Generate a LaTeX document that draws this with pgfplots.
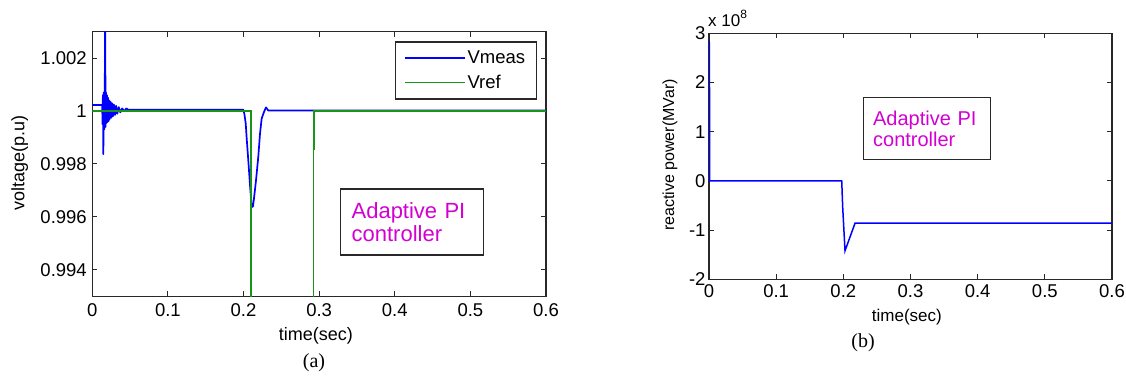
\documentclass[border=0pt]{standalone}
\usepackage{fontspec}
\setmainfont{Liberation Sans}
\newfontfamily\timesfont{Liberation Serif}
\usepackage{pgfplots}
\usepackage{pgfplotstable}
\pgfplotsset{compat=1.18}
\definecolor{mblue}{RGB}{0,0,255}
\definecolor{mgreen}{RGB}{25,150,25}
\definecolor{mmag}{RGB}{210,0,210}
\definecolor{axc}{RGB}{40,40,40}
\newcommand{\fs}[2]{\fontsize{#1}{#2}\selectfont}

\pgfplotstableread{
t v
0 1.00023
0.0132 1.00023
0.0134 0.9995
0.0140 1.0006
0.0146 0.99837
0.0152 1.0007
0.0158 0.9993
0.0164 1.0004
0.0170 1.0036
0.0176 0.9994
0.0182 1.0007
0.0188 0.99955
0.0194 1.0006
0.0200 0.99958
0.0208 1.0005
0.0216 0.99962
0.0224 1.0004
0.0232 0.9997
0.0240 1.00035
0.0250 0.99975
0.0260 1.0003
0.0272 0.9998
0.0285 1.00025
0.0300 0.99985
0.0315 1.0002
0.0330 0.9999
0.0350 1.00015
0.0370 0.99995
0.0395 1.0001
0.0420 1.0000
0.0450 1.0001
0.0476 1.00005
0.1997 1.00005
0.2010 0.99991
0.2029 0.99953
0.2042 0.99896
0.2063 0.99814
0.2086 0.99719
0.2108 0.99637
0.2125 0.99640
0.2138 0.99669
0.2165 0.99738
0.2195 0.99827
0.2218 0.99915
0.2240 0.99972
0.2271 0.99997
0.2297 1.00014
0.2328 1.00002
0.6 1.00002
}\vmeas

\pgfplotstableread{
t v
0 1
0.2095 1
0.2095 0.98
0.2925 0.98
0.2925 0.99858
0.2935 0.99858
0.2935 1
0.6 1
}\vref

\pgfplotstableread{
t q
0 2.85
0.0006 2.80
0.0010 0
0.1976 0
0.1990 -0.525
0.2025 -1.42
0.2174 -0.86
0.6 -0.86
}\qdata

\begin{document}
\begin{tikzpicture}
\path[use as bounding box] (0pt,0pt) rectangle (1126pt,381pt);

% ---------- (a) ----------
\begin{axis}[
  at={(92.3pt,84.7pt)}, anchor=south west,
  width=453.7pt, height=264.6pt, scale only axis,
  clip mode=individual,
  xmin=0, xmax=0.6, ymin=0.993, ymax=1.003,
  xtick={0,0.1,0.2,0.3,0.4,0.5,0.6},
  xticklabels={0,0.1,0.2,0.3,0.4,0.5,0.6},
  ytick={0.994,0.996,0.998,1,1.002},
  yticklabels={0.994,0.996,0.998,1,1.002},
  tick align=inside, major tick length=5pt,
  axis line style={axc, line width=1.2pt},
  tick style={axc, line width=1pt},
  ticklabel style={font=\fs{18.5}{20}},
  xticklabel style={yshift=-4pt},
  yticklabel style={xshift=-2pt},
  xlabel={time(sec)},
  xlabel style={at={(axis description cs:0.493,-0.150)}, anchor=center, font=\fs{18}{20}},
  ylabel={voltage(p.u)},
  ylabel style={at={(axis description cs:-0.160,0.504)}, anchor=center, font=\fs{18}{20}},
  legend cell align=left,
  legend style={at={(0.9795,0.9637)}, anchor=north east, draw=axc, line width=1.2pt,
    font=\fs{18.5}{20}, inner xsep=9pt, inner ysep=7pt, row sep=6pt},
  legend image code/.code={\draw[#1, line width=1.4pt] (0pt,0pt) -- (60pt,0pt);},
]
\addplot[mblue, line width=1.7pt, line join=round] table[x=t,y=v] {\vmeas};
\addlegendentry{Vmeas}
\addplot[mgreen, line width=1.7pt] table[x=t,y=v] {\vref};
\addlegendentry{Vref}
\node[draw=axc, line width=1.2pt, anchor=north west, align=left, text width=121pt,
  inner xsep=11pt, minimum height=66pt, text=mmag, font=\fs{22}{23.3}]
  at (axis description cs:0.546,0.408) {\mbox{Adaptive PI}\\\mbox{controller}};
\end{axis}

% ---------- (b) ----------
\begin{axis}[
  at={(709pt,101.7pt)}, anchor=south west,
  width=403pt, height=246pt, scale only axis,
  clip mode=individual,
  xmin=0, xmax=0.6, ymin=-2, ymax=3,
  xtick={0,0.1,0.2,0.3,0.4,0.5,0.6},
  xticklabels={0,0.1,0.2,0.3,0.4,0.5,0.6},
  ytick={-2,-1,0,1,2,3},
  yticklabels={-2,-1,0,1,2,3},
  tick align=inside, major tick length=5pt,
  axis line style={axc, line width=1.2pt},
  tick style={axc, line width=1pt},
  ticklabel style={font=\fs{18.5}{20}},
  xticklabel style={yshift=-2pt},
  xlabel={time(sec)},
  xlabel style={at={(axis description cs:0.491,-0.152)}, anchor=center, font=\fs{17}{19}},
  ylabel={reactive power(MVar)},
  ylabel style={at={(axis description cs:-0.0968,0.505)}, anchor=center, font=\fs{16}{18}},
]
\addplot[mblue, line width=1.5pt] table[x=t,y=q] {\qdata};
\node[draw=axc, line width=1.2pt, anchor=north west, align=left, text width=107pt,
  inner xsep=10pt, minimum height=62pt, text=mmag, font=\fs{20}{21.7}]
  at (axis description cs:0.381,0.740) {\mbox{Adaptive PI}\\\mbox{controller}};
\end{axis}

\node[anchor=base west, font=\fs{17}{19}, inner sep=0pt] at (708pt,354.3pt)
  {x 10\raisebox{0.5em}{\fs{12}{12}8}};
\node[font=\timesfont\fs{20}{22}] at (314pt,18pt) {(a)};
\node[font=\timesfont\fs{20}{22}] at (863pt,38pt) {(b)};
\end{tikzpicture}
\end{document}
